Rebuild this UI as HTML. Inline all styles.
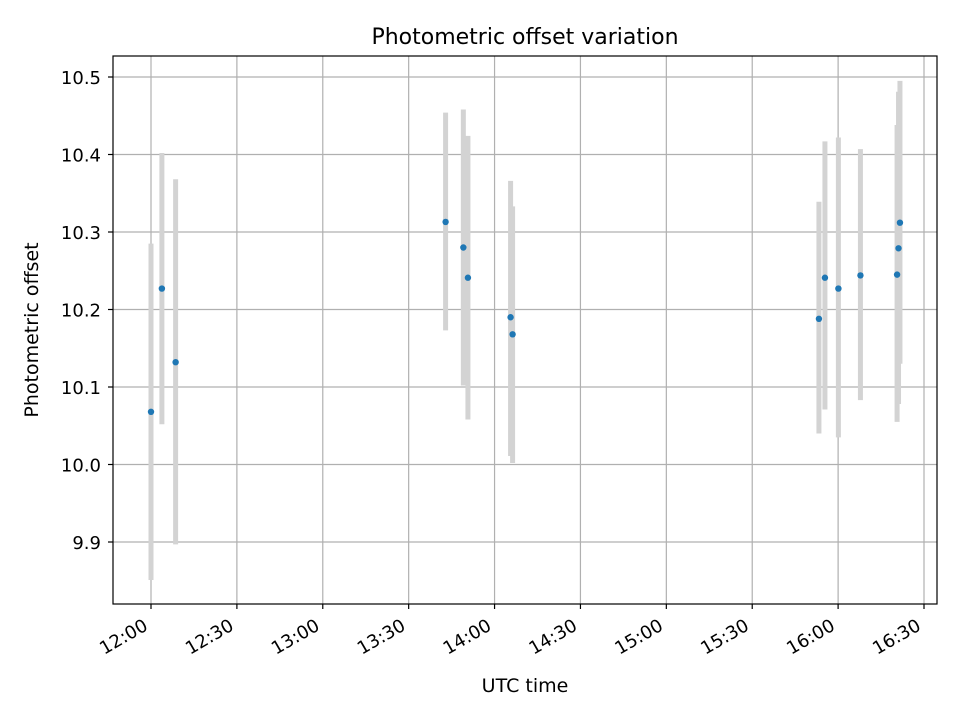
<!DOCTYPE html>
<html><head><meta charset="utf-8"><style>
body{margin:0;background:#fff}
svg text{font-family:"DejaVu Sans","Liberation Sans",sans-serif;fill:#000}
</style></head><body>
<svg id="chart" width="960" height="720" viewBox="0 0 960 720" xmlns="http://www.w3.org/2000/svg">
<rect width="960" height="720" fill="#fff"/>
<g id="grid"></g>
<g id="bars"></g>
<g id="pts"></g>
<rect x="113" y="56" width="824" height="548" fill="none" stroke="#000" stroke-width="1.2"/>
<g id="axes"></g>
<text x="525" y="44" font-size="22" text-anchor="middle">Photometric offset variation</text>
<text x="525" y="692" font-size="19" text-anchor="middle">UTC time</text>
<text transform="translate(38,330) rotate(-90)" font-size="19" text-anchor="middle">Photometric offset</text>
</svg>
<script>
// minutes after 12:00 UTC
const times = [0, 3.8, 8.6, 102.9, 109.1, 110.7, 125.6, 126.3, 233.3, 235.4, 240.1, 247.8, 260.6, 261.1, 261.6];
const offsets = [10.068, 10.227, 10.132, 10.313, 10.280, 10.241, 10.190, 10.168, 10.188, 10.241, 10.227, 10.244, 10.245, 10.279, 10.312];
const errLow = [0.217, 0.175, 0.235, 0.140, 0.178, 0.183, 0.179, 0.166, 0.148, 0.170, 0.192, 0.161, 0.190, 0.201, 0.182];
const errHigh = [0.217, 0.175, 0.236, 0.141, 0.178, 0.183, 0.176, 0.165, 0.151, 0.176, 0.195, 0.163, 0.193, 0.202, 0.183];
const yTicks = [9.9, 10.0, 10.1, 10.2, 10.3, 10.4, 10.5];
const yTickLabels = ["9.9", "10.0", "10.1", "10.2", "10.3", "10.4", "10.5"];
const xTicks = [0, 30, 60, 90, 120, 150, 180, 210, 240, 270];
const xTickLabels = ["12:00", "12:30", "13:00", "13:30", "14:00", "14:30", "15:00", "15:30", "16:00", "16:30"];

const NS = "http://www.w3.org/2000/svg";
const xS = m => 151 + m * (773 / 270);
const yS = v => 77 + (10.5 - v) * 775;
function mk(tag, attrs, parent) {
  const e = document.createElementNS(NS, tag);
  for (const k in attrs) e.setAttribute(k, attrs[k]);
  parent.appendChild(e);
  return e;
}
const grid = document.getElementById('grid'), axes = document.getElementById('axes');
const bars = document.getElementById('bars'), pts = document.getElementById('pts');
xTicks.forEach((t, i) => {
  const x = xS(t);
  const g = mk('line', {x1: x, x2: x, y1: 56, y2: 604, stroke: '#b0b0b0', 'stroke-width': 1.2}, grid);
  
  
  const tk = mk('line', {x1: x, x2: x, y1: 604, y2: 609, stroke: '#000', 'stroke-width': 1.2}, axes);
  
  
  const tx = mk('text', {x: 0, y: 0, 'font-size': 18, 'text-anchor': 'end', transform: `translate(${x - 2},${629}) rotate(-30)`}, axes);
  tx.textContent = xTickLabels[i];
  
  
});
yTicks.forEach((t, i) => {
  const y = yS(t);
  const g = mk('line', {x1: 113, x2: 937, y1: y, y2: y, stroke: '#b0b0b0', 'stroke-width': 1.2}, grid);
  
  
  const tk = mk('line', {x1: 108, x2: 113, y1: y, y2: y, stroke: '#000', 'stroke-width': 1.2}, axes);
  
  
  const tx = mk('text', {x: 101, y: y + 7, 'font-size': 18, 'text-anchor': 'end'}, axes);
  tx.textContent = yTickLabels[i];
  
  
});
times.forEach((t, i) => {
  const x = xS(t);
  const b = mk('line', {x1: x, x2: x, y1: yS(offsets[i] + errHigh[i]), y2: yS(offsets[i] - errLow[i]), stroke: '#d3d3d3', 'stroke-width': 5}, bars);
  
  
  const c = mk('circle', {cx: x, cy: yS(offsets[i]), r: 3.2, fill: '#1f77b4'}, pts);
  
  
});
</script>
</body></html>
